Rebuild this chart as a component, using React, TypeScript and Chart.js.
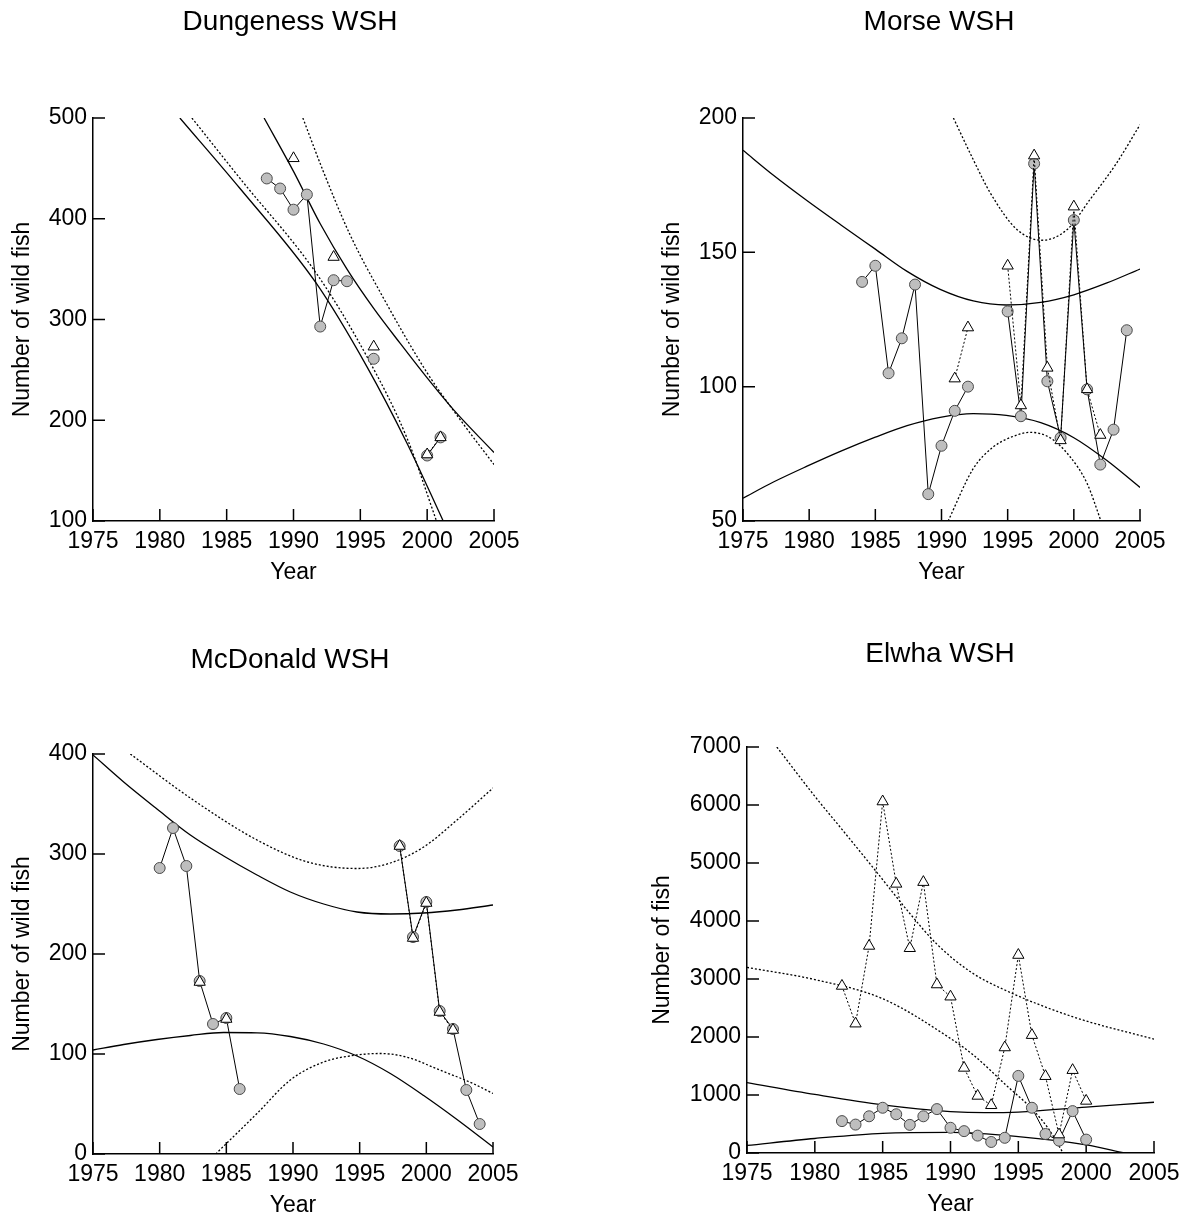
import React, { useEffect, useRef } from "react";
import { Chart, registerables } from "chart.js";

Chart.register(...registerables);

const FONT = '"Liberation Sans", Arial, Helvetica, sans-serif';

// ---------------- Dungeness WSH ----------------
const dungYears = [1988, 1989, 1990, 1991, 1992, 1993, 1994, 1995, 1996, 1997, 1998, 1999, 2000, 2001];
const dungCircles = [440, 430, 409, 424, 293, 339, 338, null, 261, null, null, null, 165, 183];
const dungTriangles = [null, null, 460, null, null, 362, null, null, 273, null, null, null, 166, 183];
const dungSolidUpperX = [1987.8, 1990, 1992, 1994, 1996, 1998, 2000, 2002, 2005];
const dungSolidUpperY = [500, 447, 395, 350, 311, 276, 242, 210, 168];
const dungSolidLowerX = [1981.5, 1986, 1991.7, 1995.5, 1998.5, 2001.2];
const dungSolidLowerY = [500, 430, 336, 253, 177, 100];
const dungDottedUpperX = [1990.7, 1992.2, 1994.2, 1996.7, 2000, 2002.5, 2005];
const dungDottedUpperY = [500, 448, 385, 322, 247, 200, 156];
const dungDottedLowerX = [1982.4, 1986, 1991.7, 1995.5, 1998.5, 2000.7];
const dungDottedLowerY = [500, 440, 346, 263, 182, 100];
const dungYTicks = [100, 500, 100]; // min, max, step

// ---------------- Morse WSH ----------------
const morseYears = [1984, 1985, 1986, 1987, 1988, 1989, 1990, 1991, 1992, 1993, 1994, 1995, 1996, 1997, 1998, 1999, 2000, 2001, 2002, 2003, 2004];
const morseCircles = [139, 145, 105, 118, 138, 60, 78, 91, 100, null, null, 128, 89, 183, 102, 81, 162, 99, 71, 84, 121];
const morseTriangles = [null, null, null, null, null, null, null, 103, 122, null, null, 145, 93, 186, 107, 80, 167, 99, 82, null, null];
const morseBandX = [1975, 1977.3, 1979.8, 1982.4, 1985, 1987.4, 1989.9, 1992.4, 1994.9, 1997.5, 2000, 2002.5, 2005];
const morseSolidUpperY = [188, 178.7, 169.4, 160.2, 151.2, 142.9, 136.2, 131.9, 130.4, 131.4, 134.2, 138.6, 143.8];
const morseSolidLowerY = [58.5, 64.5, 70.3, 76, 81.2, 85.5, 88.6, 90, 89.3, 86.6, 81, 72.5, 62.5];
const morseDottedUpperX = [1990.9, 1992.4, 1993.7, 1995.7, 1997.6, 1999.5, 2001.2, 2003.2, 2005];
const morseDottedUpperY = [200, 184.5, 172, 158.5, 154.5, 158.5, 169.5, 183, 197.5];
const morseDottedLowerX = [1990.5, 1992.4, 1993.9, 1995.7, 1996.7, 1998.2, 1999.7, 2001, 2002.05];
const morseDottedLowerY = [50, 69.5, 77.5, 82, 83, 81, 74, 64, 50];
const morseYTicks = [50, 200, 50];

// ---------------- McDonald WSH ----------------
const mcdYears = [1980, 1981, 1982, 1983, 1984, 1985, 1986, 1987, 1988, 1989, 1990, 1991, 1992, 1993, 1994, 1995, 1996, 1997, 1998, 1999, 2000, 2001, 2002, 2003, 2004];
const mcdCircles = [286, 326, 288, 173, 130, 136, 65, null, null, null, null, null, null, null, null, null, null, null, 308, 217, 252, 143, 125, 64, 30];
const mcdTriangles = [null, null, null, 172, null, 135, null, null, null, null, null, null, null, null, null, null, null, null, 308, 216, 251, 142, 124, null, null];
const mcdBandX = [1975, 1977.3, 1979.8, 1982.3, 1984.8, 1987.3, 1989.8, 1992.3, 1994.8, 1997.3, 1999.8, 2002.3, 2005];
const mcdSolidUpperY = [399, 372, 345, 319, 298, 279, 262, 250, 242, 240, 241, 244, 249];
const mcdSolidLowerY = [104, 109.5, 114.5, 118.5, 121.5, 121.2, 117.5, 110, 98, 80.5, 58.5, 34.5, 7];
const mcdDottedUpperX = [1977.8, 1982.3, 1987.3, 1991.1, 1994.8, 1997.3, 1999.8, 2002.3, 2005];
const mcdDottedUpperY = [400, 356, 314, 292, 285.5, 291, 307, 334, 366];
const mcdDottedLowerX = [1984.2, 1987.3, 1989.8, 1992.3, 1994.8, 1996.5, 1998.5, 2001, 2003.5, 2005];
const mcdDottedLowerY = [0, 40.5, 74, 92, 99, 100.5, 97, 84, 70.5, 60.5];
const mcdYTicks = [0, 400, 100];

// ---------------- Elwha WSH ----------------
const elwhaYears = [1982, 1983, 1984, 1985, 1986, 1987, 1988, 1989, 1990, 1991, 1992, 1993, 1994, 1995, 1996, 1997, 1998, 1999, 2000];
const elwhaCircles = [550, 490, 633, 780, 668, 485, 633, 757, 435, 377, 300, 190, 262, 1329, 780, 328, 213, 722, 231];
const elwhaTriangles = [2880, 2230, 3570, 6060, 4640, 3530, 4670, 2905, 2695, 1467, 984, 823, 1819, 3413, 2032, 1324, 318, 1428, 898];
const elwhaSolidUpperX = [1975, 1980, 1985, 1990, 1992.5, 1995, 2000, 2005];
const elwhaSolidUpperY = [1215, 1010, 830, 715, 695, 705, 790, 875];
const elwhaSolidLowerX = [1975, 1980, 1985, 1990, 1995, 2000, 2002.8, 2005];
const elwhaSolidLowerY = [130, 250, 340, 355, 282, 140, 0, -110];
const elwhaDottedUpperX = [1977.2, 1980, 1982, 1984.5, 1987, 1989, 1991.5, 1994, 1999, 2005];
const elwhaDottedUpperY = [7000, 6150, 5580, 4860, 4130, 3600, 3120, 2810, 2350, 1963];
const elwhaDottedLowerX = [1975, 1980, 1985, 1990, 1991.7, 1994.1, 1996.1, 1997.3, 1998.3, 1998.6];
const elwhaDottedLowerY = [3200, 2990, 2660, 1975, 1687, 1169, 737, 392, 0, -120];
const elwhaYTicks = [0, 7000, 1000];

const xTicks = [1975, 2005, 5];

// ---------------- helpers ----------------
const pts = (xs: number[], ys: (number | null)[]) => xs.map((x, i) => ({ x, y: ys[i] }));

const curve = (xs: number[], ys: number[], dotted: boolean) => ({
  data: pts(xs, ys),
  borderColor: "#000",
  borderWidth: 1.3,
  borderDash: dotted ? [2, 2] : [],
  pointRadius: 0,
  cubicInterpolationMode: "monotone",
  clip: 0,
  order: 2,
});

const circleSeries = (xs: number[], ys: (number | null)[]) => ({
  data: pts(xs, ys),
  borderColor: "#000",
  borderWidth: 1,
  pointStyle: "circle",
  pointRadius: 5.5,
  pointBackgroundColor: "#bebebe",
  pointBorderColor: "#4a4a4a",
  pointBorderWidth: 1,
  spanGaps: false,
  order: 1,
});

const triangleSeries = (xs: number[], ys: (number | null)[]) => ({
  data: pts(xs, ys),
  borderColor: "#000",
  borderWidth: 1,
  borderDash: [2, 2],
  pointStyle: "triangle",
  pointRadius: 6.5,
  pointBackgroundColor: "#fff",
  pointBorderColor: "#000",
  pointBorderWidth: 1,
  spanGaps: false,
  order: 0,
});

const TICK_IN = 12; // inward tick length in px

type PanelSpec = {
  title: string;
  yTitle: string;
  left: number;
  top: number;
  w: number;
  h: number;
  pad: { top: number; right: number; bottom: number; left: number };
  yWidth: number;
  xHeight: number;
  titleX: number;
  titleY: number;
  yTicks: number[];
  datasets: any[];
};

// inward tick marks as a line dataset on the chart's own scales,
// built from the tick arrays (segments separated by nulls)
function tickMarks(spec: PanelSpec) {
  const chartW = spec.w - spec.pad.right - spec.pad.left - spec.yWidth;
  const chartH = spec.h - spec.pad.bottom - spec.xHeight - spec.pad.top;
  const [x0, x1, xs] = xTicks;
  const [y0, y1, ys] = spec.yTicks;
  const dy = (TICK_IN / chartH) * (y1 - y0);
  const dx = (TICK_IN / chartW) * (x1 - x0);
  const data: { x: number; y: number | null }[] = [];
  for (let i = 0; i <= Math.round((x1 - x0) / xs); i++) {
    const v = x0 + i * xs;
    data.push({ x: v, y: y0 }, { x: v, y: y0 + dy }, { x: v, y: null });
  }
  for (let j = 0; j <= Math.round((y1 - y0) / ys); j++) {
    const v = y0 + j * ys;
    data.push({ x: x0, y: v }, { x: x0 + dx, y: v }, { x: x0, y: null });
  }
  return {
    data,
    borderColor: "#000",
    borderWidth: 1.5,
    pointRadius: 0,
    spanGaps: false,
    tension: 0,
    clip: false,
    order: 3,
  };
}

// panel title
function makeTitle(spec: PanelSpec) {
  return {
    id: "panelTitle",
    afterDraw(chart: any) {
      const ctx: CanvasRenderingContext2D = chart.ctx;
      ctx.save();
      ctx.fillStyle = "#000";
      ctx.font = `28px ${FONT}`;
      ctx.textAlign = "center";
      ctx.textBaseline = "middle";
      ctx.fillText(spec.title, spec.titleX - spec.left, spec.titleY - spec.top);
      ctx.restore();
    },
  };
}

function Panel({ spec }: { spec: PanelSpec }) {
  const ref = useRef<HTMLCanvasElement>(null);
  useEffect(() => {
    const fontTick = { family: FONT, size: 23 };
    const chart = new Chart(ref.current as HTMLCanvasElement, {
      type: "line",
      data: { datasets: [...spec.datasets, tickMarks(spec)] },
      plugins: [makeTitle(spec)],
      options: {
        animation: false,
        responsive: false,
        events: [],
        layout: { padding: spec.pad, autoPadding: true },
        plugins: {
          legend: { display: false },
          tooltip: { enabled: false },
        },
        scales: {
          x: {
            type: "linear",
            min: xTicks[0],
            max: xTicks[1],
            afterFit: (s: any) => {
              s.height = spec.xHeight;
            },
            ticks: {
              stepSize: xTicks[2],
              padding: 7,
              color: "#000",
              font: fontTick,
              maxRotation: 0,
              autoSkip: false,
              callback: (v: any) => String(v),
            },
            grid: { display: false, drawTicks: false },
            border: { display: true, color: "#000", width: 1.5 },
            title: {
              display: true,
              text: "Year",
              color: "#000",
              font: fontTick,
              padding: { top: 0, bottom: 1 },
            },
          },
          y: {
            type: "linear",
            min: spec.yTicks[0],
            max: spec.yTicks[1],
            afterFit: (s: any) => {
              s.width = spec.yWidth;
            },
            ticks: {
              stepSize: spec.yTicks[2],
              padding: 6,
              color: "#000",
              font: fontTick,
              callback: (v: any) => String(v),
            },
            grid: { display: false, drawTicks: false },
            border: { display: true, color: "#000", width: 1.5 },
            title: {
              display: true,
              text: spec.yTitle,
              color: "#000",
              font: fontTick,
              padding: { top: 9, bottom: 0 },
            },
          },
        },
      } as any,
    });
    return () => chart.destroy();
  }, []);
  return (
    <canvas
      ref={ref}
      width={spec.w}
      height={spec.h}
      style={{ position: "absolute", left: spec.left, top: spec.top, width: spec.w, height: spec.h }}
    />
  );
}

const panels: PanelSpec[] = [
  {
    title: "Dungeness WSH",
    yTitle: "Number of wild fish",
    left: 0, top: 0, w: 560, h: 587,
    pad: { top: 118, right: 66, bottom: 0, left: 0 },
    yWidth: 93, xHeight: 66,
    titleX: 290, titleY: 22,
    yTicks: dungYTicks,
    datasets: [
      triangleSeries(dungYears, dungTriangles),
      circleSeries(dungYears, dungCircles),
      curve(dungSolidUpperX, dungSolidUpperY, false),
      curve(dungSolidLowerX, dungSolidLowerY, false),
      curve(dungDottedUpperX, dungDottedUpperY, true),
      curve(dungDottedLowerX, dungDottedLowerY, true),
    ],
  },
  {
    title: "Morse WSH",
    yTitle: "Number of wild fish",
    left: 650, top: 0, w: 550, h: 587,
    pad: { top: 118, right: 60, bottom: 0, left: 0 },
    yWidth: 93, xHeight: 66,
    titleX: 939, titleY: 22,
    yTicks: morseYTicks,
    datasets: [
      triangleSeries(morseYears, morseTriangles),
      circleSeries(morseYears, morseCircles),
      curve(morseBandX, morseSolidUpperY, false),
      curve(morseBandX, morseSolidLowerY, false),
      curve(morseDottedUpperX, morseDottedUpperY, true),
      curve(morseDottedLowerX, morseDottedLowerY, true),
    ],
  },
  {
    title: "McDonald WSH",
    yTitle: "Number of wild fish",
    left: 0, top: 600, w: 560, h: 620,
    pad: { top: 154, right: 67, bottom: 0, left: 0 },
    yWidth: 93, xHeight: 66,
    titleX: 290, titleY: 660,
    yTicks: mcdYTicks,
    datasets: [
      triangleSeries(mcdYears, mcdTriangles),
      circleSeries(mcdYears, mcdCircles),
      curve(mcdBandX, mcdSolidUpperY, false),
      curve(mcdBandX, mcdSolidLowerY, false),
      curve(mcdDottedUpperX, mcdDottedUpperY, true),
      curve(mcdDottedLowerX, mcdDottedLowerY, true),
    ],
  },
  {
    title: "Elwha WSH",
    yTitle: "Number of fish",
    left: 640, top: 600, w: 560, h: 619,
    pad: { top: 147, right: 46, bottom: 0, left: 0 },
    yWidth: 107, xHeight: 66,
    titleX: 940, titleY: 654,
    yTicks: elwhaYTicks,
    datasets: [
      triangleSeries(elwhaYears, elwhaTriangles),
      circleSeries(elwhaYears, elwhaCircles),
      curve(elwhaSolidUpperX, elwhaSolidUpperY, false),
      curve(elwhaSolidLowerX, elwhaSolidLowerY, false),
      curve(elwhaDottedUpperX, elwhaDottedUpperY, true),
      curve(elwhaDottedLowerX, elwhaDottedLowerY, true),
    ],
  },
];

export default function App() {
  return (
    <div
      style={{
        position: "absolute",
        left: 0,
        top: 0,
        width: 1186,
        height: 1217,
        overflow: "hidden",
        background: "#fff",
      }}
    >
      {panels.map((p) => (
        <Panel key={p.title} spec={p} />
      ))}
    </div>
  );
}
